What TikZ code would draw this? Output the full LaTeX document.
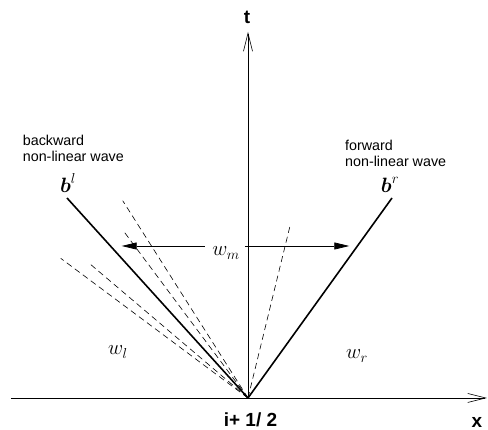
\documentclass[tikz,border=0pt]{standalone}
\usepackage{amsmath,amssymb}
\usepackage{fontspec}
\newfontfamily\wavefont{Liberation Sans}
\usepackage{tikz}
\usetikzlibrary{arrows.meta}

\begin{document}
\begin{tikzpicture}[x=1pt, y=1pt,
    axis/.style={line width=0.7pt, -{Straight Barb[length=18pt, width=9pt, line width=0.6pt]}},
    front/.style={line width=1.6pt},
    fan/.style={line width=0.6pt, dash pattern=on 6pt off 4pt},
    flux/.style={line width=0.7pt, -{Triangle[length=15pt, width=7pt]}},
    wavetext/.style={font=\wavefont\fontsize{14.3}{15.7}\selectfont, align=left, inner sep=0pt, anchor=north west},
    axtext/.style={font=\wavefont\bfseries\fontsize{19}{22}\selectfont, inner sep=0pt},
    wstate/.style={font=\huge, inner sep=0pt}]
    \useasboundingbox (-248,-32) rectangle (240,398);
    % axes
    \coordinate (o) at (0,0);
    \coordinate (xl) at (-237,0);
    \coordinate (xr) at (239,0);
    \coordinate (tt) at (0,366);
    \draw[axis] (xl) -- (xr);
    \draw[axis] (o) -- (tt);
    \node[axtext] (tlab) at (-1,381) {t};
    \node[axtext] (xlab) at (229,-24) {x};
    \node[axtext] (ilab) at (2.5,-22) {i+ 1/ 2};
    % waves
    \coordinate (bltop) at (-181,200);
    \coordinate (brtop) at (144,200);
    \draw[front] (o) -- (bltop);
    \draw[front] (o) -- (brtop);
    \coordinate (d1) at (-125.3,197.3);
    \coordinate (d2) at (-124,166.3);
    \coordinate (d3) at (-187.3,139.7);
    \coordinate (d4) at (-159.7,135.5);
    \coordinate (d5) at (42,172);
    \foreach \d in {d1,d2,d3,d4,d5}
      \draw[fan] (o) -- (\d);
    \node[wavetext] (bwd) at (-225.3,263) {backward\\non-linear wave};
    \node[wavetext] (fwd) at (97,258) {forward\\non-linear wave};
    \node[wstate] (bl) at (-180,215) {$\boldsymbol{b}^{l}$};
    \node[wstate] (br) at (142,213) {$\boldsymbol{b}^{r}$};
    % states
    \node[wstate] (wm) at (-22,145) {$w_{m}$};
    \node[wstate] (wl) at (-130,46) {$w_{l}$};
    \node[wstate] (wr) at (109,42) {$w_{r}$};
    \coordinate (ml) at (-43,152);
    \coordinate (al) at (-126.3,152);
    \coordinate (mr) at (-3,152);
    \coordinate (ar) at (101.3,152);
    \draw[flux] (ml) -- (al);
    \draw[flux] (mr) -- (ar);
\end{tikzpicture}
\end{document}
